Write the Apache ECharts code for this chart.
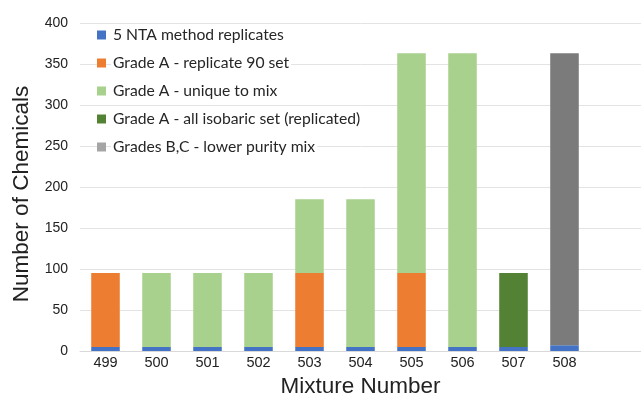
<!DOCTYPE html>
<html>
<head>
<meta charset="utf-8">
<script src="https://cdn.jsdelivr.net/npm/echarts@6/dist/echarts.min.js"></script>
<style>
  html, body { margin: 0; padding: 0; background: #fff; }
  #main { width: 641px; height: 398px; }
</style>
</head>
<body>
<div id="main"></div>
<script>
var categories = ["499", "500", "501", "502", "503", "504", "505", "506", "507", "508", ""];
var ntaReplicates = [5, 5, 5, 5, 5, 5, 5, 5, 5, 7];
var replicate90 = [90, 0, 0, 0, 90, 0, 90, 0, 0, 0];
var uniqueToMix = [0, 90, 90, 90, 90, 180, 268, 358, 0, 0];
var isobaricSet = [0, 0, 0, 0, 0, 0, 0, 0, 90, 0];
var lowerPurity = [0, 0, 0, 0, 0, 0, 0, 0, 0, 356];
var yTicks = [0, 50, 100, 150, 200, 250, 300, 350, 400];

var seriesInfo = [
  { name: "5 NTA method replicates", data: ntaReplicates, color: "#4472C4" },
  { name: "Grade A - replicate 90 set", data: replicate90, color: "#ED7D31" },
  { name: "Grade A - unique to mix", data: uniqueToMix, color: "#A9D18E" },
  { name: "Grade A - all isobaric set (replicated)", data: isobaricSet, color: "#548235" },
  { name: "Grades B,C - lower purity mix", data: lowerPurity, color: "#7B7B7B", legendColor: "#A5A5A5" }
];

var seriesArr = [];
var legendData = [];
seriesInfo.map((item) => {
  seriesArr.push({
    name: item.name,
    type: "bar",
    stack: "total",
    barCategoryGap: "44%",
    data: item.data.map((v) => (v === 0 ? null : v)),
    itemStyle: { color: item.color },
  });
  legendData.push({
    name: item.name,
    itemStyle: { color: item.legendColor || item.color },
  });
});

var myChart = echarts.init(document.getElementById("main"));
option = {
  backgroundColor: "#fff",
  animation: false,
  grid: {
    left: 80,
    right: 0,
    top: 23,
    bottom: 47,
    containLabel: false,
    outerBoundsMode: "none",
  },
  legend: {
    orient: "vertical",
    left: 92,
    top: 22,
    itemWidth: 9,
    itemHeight: 9,
    itemGap: 12,
    icon: "rect",
    data: legendData,
    textStyle: {
      fontFamily: "Lato",
      fontSize: 15.7,
      lineHeight: 16,
      color: "#262626",
      backgroundColor: "#fff",
      padding: [0, 2],
    },
  },
  xAxis: {
    type: "category",
    data: categories,
    name: "Mixture Number",
    nameLocation: "middle",
    nameGap: 21,
    nameTextStyle: {
      fontFamily: "Liberation Sans",
      fontSize: 22.5,
      color: "#222",
    },
    axisLine: { lineStyle: { color: "#D9D9D9" } },
    axisTick: { show: false },
    axisLabel: {
      interval: 0,
      fontFamily: "Liberation Sans",
      fontSize: 14.5,
      color: "#222",
      margin: 4,
    },
  },
  yAxis: {
    type: "value",
    min: yTicks[0],
    max: yTicks[yTicks.length - 1],
    interval: 50,
    name: "Number of Chemicals",
    nameLocation: "middle",
    nameGap: 47,
    nameTextStyle: {
      fontFamily: "Liberation Sans",
      fontSize: 22.5,
      color: "#222",
      padding: [0, 14, 0, 0],
    },
    axisLine: { show: false },
    axisTick: { show: false },
    axisLabel: {
      fontFamily: "Liberation Sans",
      fontSize: 14,
      color: "#222",
      margin: 12,
    },
    splitLine: { lineStyle: { color: "#E3E3E3" } },
  },
  series: seriesArr,
};
myChart.setOption(option);
</script>
</body>
</html>
